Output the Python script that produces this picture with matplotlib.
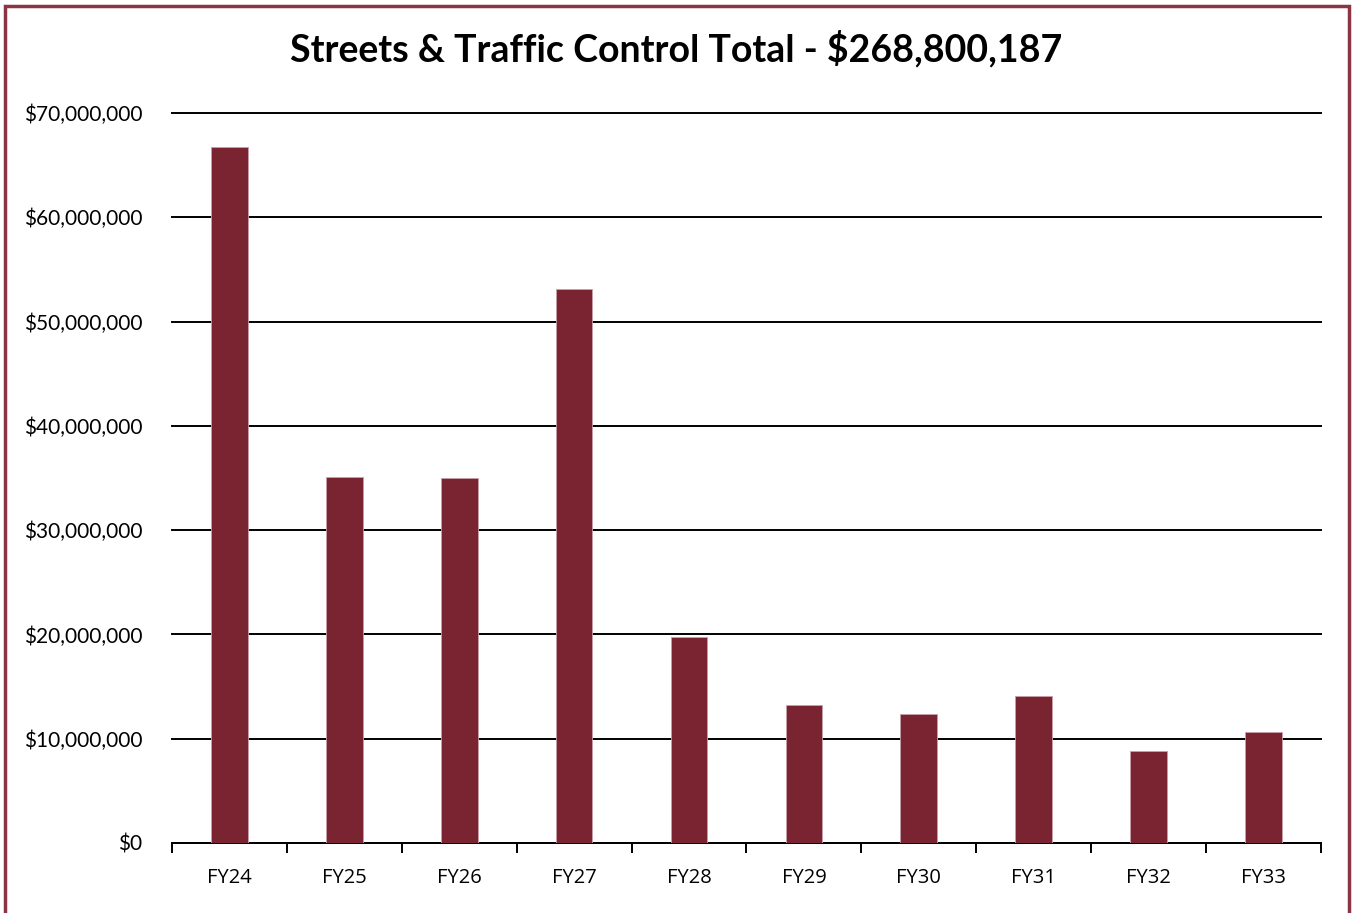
import numpy as np
import matplotlib.pyplot as plt
from matplotlib.patches import Rectangle
from matplotlib.ticker import FuncFormatter

years = ["FY24", "FY25", "FY26", "FY27", "FY28", "FY29", "FY30", "FY31", "FY32", "FY33"]
amounts = [66.7e6, 35.1e6, 35.0e6, 53.1e6, 19.8e6, 13.2e6, 12.4e6, 14.1e6, 8.8e6, 10.6e6]
total_label = "$268,800,187"

bar_color = "#7a2432"
frame_color = "#8b3443"

fig = plt.figure(figsize=(13.52, 9.13), dpi=100)
ax = fig.add_axes([0.1272, 0.0767, 0.8498, 0.7995])

x = np.arange(len(years))
ax.bar(x, amounts, width=0.32, color=bar_color, edgecolor="#c9a0a8", linewidth=0.6, zorder=3)

ax.set_xlim(-0.5, len(years) - 0.5)
ax.set_ylim(0, 70e6)
ax.set_yticks(np.arange(0, 70e6 + 1, 10e6))
ax.yaxis.set_major_formatter(FuncFormatter(lambda v, p: f"${v:,.0f}"))
ax.yaxis.grid(True, color="black", linewidth=1.4, zorder=1)
for gl in ax.get_ygridlines():
    gl.set_clip_on(False)
ax.tick_params(axis="y", length=0, pad=21.5, labelsize=15)
for lbl in ax.get_yticklabels():
    lbl.set_fontfamily("Lato")

# category ticks sit on the boundaries
ax.set_xticks(x)
ax.set_xticklabels(years, fontsize=14.5, fontfamily="Open Sans")
ax.set_xticks(np.arange(-0.5, len(years)), minor=True)
ax.tick_params(axis="x", which="major", length=0, pad=18)
ax.tick_params(axis="x", which="minor", length=7, width=1.4, direction="out")

for s in ["top", "right", "left"]:
    ax.spines[s].set_visible(False)
ax.spines["bottom"].set_linewidth(1.4)

fig.text(0.5, 0.947, f"Streets & Traffic Control Total - {total_label}",
         ha="center", va="center", fontsize=27, fontweight="bold", fontfamily="Lato")

fig.patches.append(Rectangle((5 / 1352, -0.05), 1344 / 1352, 1.05 - 6 / 913,
                             transform=fig.transFigure, fill=False,
                             edgecolor=frame_color, linewidth=2.5))

fig.savefig("out.png", dpi=100)
